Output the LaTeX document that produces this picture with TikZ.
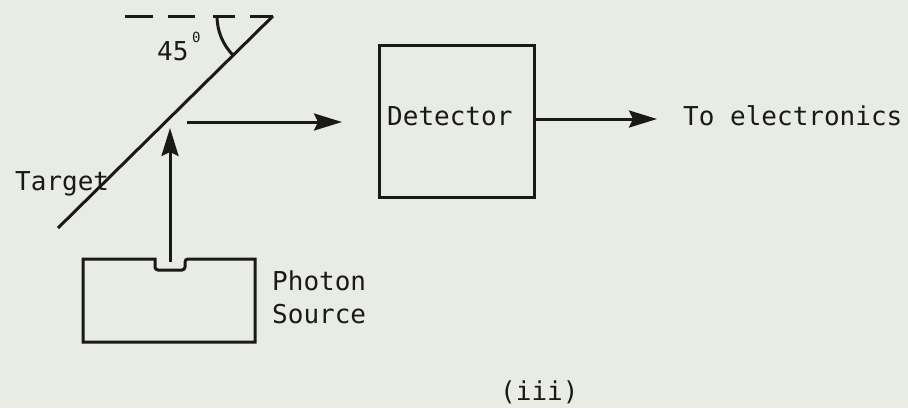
\documentclass[tikz,border=0pt]{standalone}
\usepackage{fontspec}
\newfontfamily\twfont{DejaVu Sans Mono}
\usetikzlibrary{arrows.meta}
\definecolor{paper}{RGB}{233,236,229}
\definecolor{ink}{RGB}{25,25,25}
\tikzset{
  lbl/.style={inner sep=0pt, anchor=base west, text=ink, font=\twfont\fontsize{26}{30}\selectfont},
  ln/.style={draw=ink, line width=3pt},
  arr/.style={ln, -{Stealth[length=28pt,width=17pt,inset=4pt]}},
}
\begin{document}
\begin{tikzpicture}[x=1pt,y=-1pt]
\fill[paper] (0,0) rectangle (908,408);
\useasboundingbox (0,0) rectangle (908,408);
% target and angle
\coordinate (ttop) at (273,16);
\coordinate (tbot) at (58,228);
\draw[ln] (tbot) -- (ttop);
\draw[ln] (125,16) -- (153,16);
\draw[ln] (168,16) -- (195,16);
\draw[ln] (213,16) -- (235,16);
\draw[ln] (250,16) -- (ttop);
\draw[ln] (ttop) ++(180:56) arc[start angle=180, end angle=135, radius=56];
\node[lbl] (ang) at (157,60) {45};
\node[lbl, font=\twfont\fontsize{14}{16}\selectfont] (deg) at (192,42) {0};
\node[lbl] (target) at (15,190) {Target};
% photon source
\draw[ln] (83,259) -- (155,259) [rounded corners=3pt] -- (155,270) -- (185,270) -- (185,259) [sharp corners] -- (255,259) -- (255,342) -- (83,342) -- cycle;
\coordinate (src) at (170,262);
\node[lbl] (photon) at (272,290) {Photon};
\node[lbl] (source) at (272,323) {Source};
\coordinate (hit) at (170,128);
\draw[arr] (src) -- (hit);
% reflected beam and detector
\node[ln, draw, minimum width=155pt, minimum height=152pt, inner sep=0pt] (det) at (456.5,121) {};
\node[lbl] (dettext) at (387,125) {Detector};
\coordinate (refl) at (187,122);
\coordinate (reflend) at (342,122);
\draw[arr] (refl) -- (reflend);
\coordinate (outend) at (657,119);
\draw[arr] (det.east |- outend) -- (outend);
\node[lbl] (elec) at (683,125) {To electronics};
\node[lbl] (cap) at (500,400) {(iii)};
\end{tikzpicture}
\end{document}
